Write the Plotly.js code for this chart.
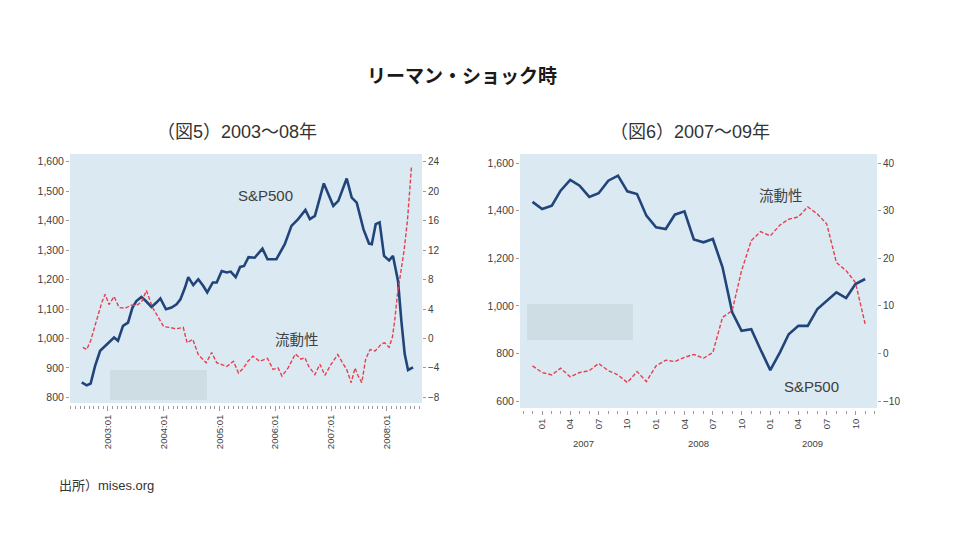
<!DOCTYPE html>
<html><head><meta charset="utf-8">
<script src="https://cdn.plot.ly/plotly-3.0.1.min.js"></script>
<style>html,body{margin:0;padding:0;background:#fff}#chart{width:960px;height:540px}</style>
</head><body><div id="chart"></div>
<script>
// ---- Figure 5 (2003-08): decimal-year time, S&P500 (left axis) and liquidity (right axis)
const leftSpTime = [2002.53,2002.62,2002.69,2002.77,2002.86,2002.95,
  2003.02,2003.11,2003.18,2003.27,2003.36,2003.44,2003.51,2003.60,2003.68,2003.78,2003.87,2003.94,
  2004.04,2004.14,2004.23,2004.30,2004.38,2004.44,2004.53,2004.62,2004.71,2004.78,2004.88,2004.95,
  2005.04,2005.13,2005.20,2005.29,2005.37,2005.44,2005.52,2005.63,2005.77,2005.86,
  2006.02,2006.17,2006.29,2006.41,2006.54,2006.62,2006.71,2006.87,
  2007.04,2007.13,2007.28,2007.37,2007.46,2007.58,2007.68,2007.73,2007.80,2007.87,2007.95,
  2008.04,2008.11,2008.20,2008.26,2008.32,2008.38,2008.47];
const leftSpValue = [851,841,847,907,958,975,
  986,1003,992,1043,1054,1105,1127,1141,1127,1107,1122,1136,
  1099,1105,1116,1133,1172,1208,1181,1201,1178,1156,1190,1190,
  1229,1224,1227,1208,1243,1246,1276,1274,1305,1269,
  1269,1320,1382,1405,1436,1405,1416,1526,
  1450,1467,1543,1478,1461,1371,1322,1320,1388,1394,1280,
  1265,1280,1195,1060,947,893,902];
const leftLiqTime = [2002.55,2002.62,2002.69,2002.79,2002.89,2002.95,
  2003.02,2003.11,2003.20,2003.31,2003.41,2003.51,2003.60,2003.69,2003.80,2003.90,
  2004.00,2004.11,2004.22,2004.35,2004.42,2004.52,2004.62,2004.76,2004.86,2004.95,
  2005.04,2005.13,2005.25,2005.34,2005.43,2005.51,2005.60,2005.72,2005.86,2005.96,
  2006.05,2006.12,2006.23,2006.36,2006.46,2006.53,2006.60,2006.71,2006.80,2006.89,
  2007.00,2007.12,2007.22,2007.28,2007.36,2007.43,2007.48,2007.55,2007.62,2007.70,2007.79,2007.91,2007.96,
  2008.04,2008.10,2008.14,2008.19,2008.23,2008.31,2008.37,2008.44];
const leftLiqValue = [-1.2,-1.5,-0.3,2.4,4.9,6.0,
  4.6,5.7,4.2,4.1,4.5,4.5,4.9,6.5,4.2,2.9,
  1.6,1.5,1.3,1.5,-0.6,-0.1,-2.2,-3.3,-1.9,-3.3,
  -3.5,-3.8,-3.1,-4.7,-4.0,-3.1,-2.4,-3.1,-2.7,-4.2,
  -4.0,-5.1,-4.0,-2.1,-2.8,-2.6,-3.8,-4.9,-3.5,-5.0,
  -3.5,-2.2,-3.5,-4.2,-6.0,-4.0,-5.0,-6.0,-2.8,-1.5,-1.7,-0.7,-0.6,
  -1.2,0.2,2.4,6.0,7.9,12.0,16.1,23.2];
const leftTickVals = [2003,2004,2005,2006,2007,2008];
const leftTickText = ["2003:01","2004:01","2005:01","2006:01","2007:01","2008:01"];

// ---- Figure 6 (2007-09): monthly
const rightMonths = ["2006-12",
  "2007-01","2007-02","2007-03","2007-04","2007-05","2007-06","2007-07","2007-08","2007-09","2007-10","2007-11","2007-12",
  "2008-01","2008-02","2008-03","2008-04","2008-05","2008-06","2008-07","2008-08","2008-09","2008-10","2008-11","2008-12",
  "2009-01","2009-02","2009-03","2009-04","2009-05","2009-06","2009-07","2009-08","2009-09","2009-10","2009-11"];
const rightSpValue = [1437,
  1407,1421,1484,1529,1505,1458,1473,1526,1547,1481,1470,1379,
  1330,1323,1383,1397,1279,1267,1281,1162,973,895,902,816,
  730,805,881,916,916,987,1021,1057,1033,1092,1113];
const rightLiqValue = [-2.6,
  -4.0,-4.5,-3.1,-4.9,-4.0,-3.6,-2.1,-3.6,-4.5,-6.1,-3.8,-5.9,
  -2.6,-1.4,-1.7,-0.8,-0.2,-1.0,0.2,7.6,9.0,17.4,23.7,25.6,
  24.7,27.0,28.2,28.7,30.8,29.3,27.2,19.1,17.4,14.9,6.2];
const rightTickDates = ["2007-01-01","2007-04-01","2007-07-01","2007-10-01",
  "2008-01-01","2008-04-01","2008-07-01","2008-10-01",
  "2009-01-01","2009-04-01","2009-07-01","2009-10-01"];
const rightTickText = ["01","04","07","10","01","04","07","10","01","04","07","10"];
const rightYears = ["2007","2008","2009"];

// ---- text
const mainTitle = "リーマン・ショック時";
const leftTitle = "（図5）2003～08年";
const rightTitle = "（図6）2007～09年";
const spName = "S&P500";
const liqName = "流動性";
const sourceText = "出所）mises.org";

// ---- styling helpers
const W = 960, H = 540;
const px = x => x / W;
const py = y => 1 - y / H;
const FONT = "Liberation Sans, Arial, 'Noto Sans CJK JP', sans-serif";
const JFONT = "'Noto Sans CJK JP', 'Liberation Sans', sans-serif";
const NAVY = "#21457a", RED = "#e5404f", BG = "#dbeaf2", TICK = "#9a9a9a", LBL = "#404040";

const xTickFont = {family: FONT, size: 9.5, color: LBL};
const yTickFont = {family: FONT, size: 10.5, color: LBL};
const y2TickFont = {family: FONT, size: 10, color: LBL};
const yBase = {showgrid:false, zeroline:false, showline:false, ticks:"outside", ticklen:3,
  tickcolor: TICK, tickfont: yTickFont, fixedrange:true};

const traces = [
  {x: leftSpTime, y: leftSpValue, xaxis:"x", yaxis:"y", mode:"lines", name: spName,
   line:{color:NAVY, width:2.6}},
  {x: leftLiqTime, y: leftLiqValue, xaxis:"x", yaxis:"y2", mode:"lines", name: liqName,
   line:{color:RED, width:1.4, dash:"4px,2px"}},
  {x: rightMonths, y: rightSpValue, xaxis:"x2", yaxis:"y3", mode:"lines", name: spName,
   line:{color:NAVY, width:2.6}},
  {x: rightMonths, y: rightLiqValue, xaxis:"x2", yaxis:"y4", mode:"lines", name: liqName,
   line:{color:RED, width:1.4, dash:"4px,2px"}}
];

const ann = (text, x, y, size, extra) => Object.assign({
  text, x: px(x), y: py(y), xref:"paper", yref:"paper", showarrow:false,
  xanchor:"center", yanchor:"middle", font:{family: JFONT, size, color: LBL}}, extra || {});

const annotations = [
  ann("<b>" + mainTitle + "</b>", 462, 75, 19, {font:{family:JFONT, size:19, color:"#1a1a1a"}}),
  ann(leftTitle, 237, 132, 18, {font:{family:FONT, size:18, color:"#333"}}),
  ann(rightTitle, 690, 132, 18, {font:{family:FONT, size:18, color:"#333"}}),
  ann(spName, 265, 195, 15, {font:{family:FONT, size:15, color:LBL}}),
  ann(liqName, 297, 338, 14.5),
  ann(liqName, 781, 194, 14.5),
  ann(spName, 811, 386, 15, {font:{family:FONT, size:15, color:LBL}}),
  ann(sourceText, 57, 485, 13, {xanchor:"left", font:{family:FONT, size:13, color:"#333"}})
];
rightYears.forEach(yr => annotations.push({
  text: yr, x: yr + "-05-15", y: py(443), xref:"x2", yref:"paper", showarrow:false,
  xanchor:"center", yanchor:"middle", font:{family:FONT, size:9.5, color:LBL}}));

const shapes = [
  {type:"rect", xref:"paper", yref:"paper", x0:px(110), x1:px(207), y0:py(370), y1:py(400),
   fillcolor:"#cddde3", line:{width:0}, layer:"above"},
  {type:"rect", xref:"paper", yref:"paper", x0:px(527), x1:px(633), y0:py(304), y1:py(340),
   fillcolor:"#cddde3", line:{width:0}, layer:"above"}
];

const layout = {
  width: W, height: H, autosize:false,
  margin:{l:0, r:0, t:0, b:0, pad:0},
  paper_bgcolor:"#ffffff", plot_bgcolor: BG,
  showlegend:false,
  font:{family: FONT, color: LBL},
  xaxis:{domain:[px(70), px(422)], range:[2002.32, 2008.63], anchor:"free", position: py(405),
    showgrid:false, zeroline:false, showline:false,
    tickmode:"array", tickvals: leftTickVals, ticktext: leftTickText, tickangle:-90,
    ticks:"outside", ticklen:5, tickcolor:TICK, tickfont: xTickFont,
    minor:{tickmode:"linear", tick0:2003, dtick:1/12, ticks:"outside", ticklen:3, tickcolor:TICK},
    fixedrange:true},
  yaxis: Object.assign({}, yBase, {domain:[py(403), py(154)], anchor:"x", range:[781, 1626],
    tickmode:"linear", tick0:800, dtick:100, tickformat:",d"}),
  yaxis2: Object.assign({}, yBase, {overlaying:"y", side:"right", anchor:"x", range:[-8.76, 25.04],
    tickmode:"linear", tick0:0, dtick:4, tickfont: y2TickFont}),
  xaxis2:{domain:[px(520), px(877)], type:"date", range:["2006-10-22","2009-12-09"],
    anchor:"free", position: py(410),
    showgrid:false, zeroline:false, showline:false,
    tickmode:"array", tickvals: rightTickDates, ticktext: rightTickText, tickangle:-90,
    ticks:"outside", ticklen:4, tickcolor:TICK, tickfont: xTickFont,
    minor:{tickmode:"linear", tick0:"2007-01-01", dtick:"M1", ticks:"outside", ticklen:3, tickcolor:TICK},
    fixedrange:true},
  yaxis3: Object.assign({}, yBase, {domain:[py(408), py(154)], anchor:"x2", range:[571, 1638],
    tickmode:"linear", tick0:600, dtick:200, tickformat:",d"}),
  yaxis4: Object.assign({}, yBase, {overlaying:"y3", side:"right", anchor:"x2", range:[-11.45, 41.9],
    tickmode:"linear", tick0:0, dtick:10, tickfont: y2TickFont}),
  annotations, shapes
};

Plotly.newPlot("chart", traces, layout, {displayModeBar:false, staticPlot:true});
</script>
</body></html>
